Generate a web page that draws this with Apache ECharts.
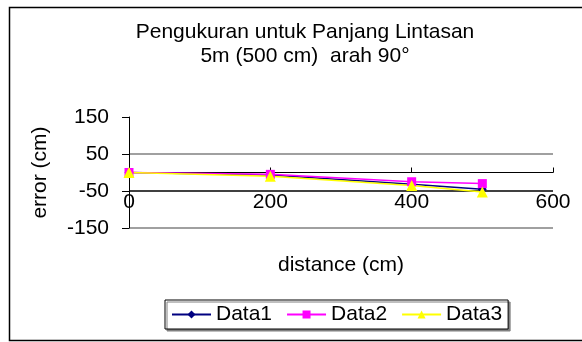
<!DOCTYPE html>
<html><head><meta charset="utf-8">
<script src="https://cdn.jsdelivr.net/npm/echarts@6/dist/echarts.min.js"></script>
<style>html,body{margin:0;padding:0;background:#fff}#c{width:582px;height:342px}</style>
</head><body><div id="c"></div>
<script>
const distances = [0, 200, 400, 500];
const data1 = [0, -7, -32, -45];
const data2 = [0, -5, -25, -30];
const data3 = [0, -10, -35, -53];
const yTicks = [-150, -50, 50, 150];
const xTicks = [0, 200, 400, 600];
const seriesNames = ['Data1', 'Data2', 'Data3'];

const F = 'Liberation Sans, Arial, sans-serif';
const chart = echarts.init(document.getElementById('c'), null, {renderer: 'canvas'});
function pts(vals) { return distances.map((d, i) => [d, vals[i]]); }
chart.setOption({
  animation: false,
  backgroundColor: '#fff',
  graphic: [{type: 'rect', shape: {x: 9.5, y: 7.5, width: 620, height: 333}, style: {fill: 'none', stroke: '#000', lineWidth: 1.5}, z: 0}],
  title: {
    text: 'Pengukuran untuk Panjang Lintasan\n5m (500 cm)  arah 90°',
    left: 300, top: 15, textAlign: 'center',
    textStyle: {fontFamily: F, fontSize: 21, fontWeight: 'normal', color: '#000', lineHeight: 24}
  },
  grid: {left: 129, right: 29, top: 117, bottom: 114},
  xAxis: {
    type: 'value', min: xTicks[0], max: xTicks[xTicks.length - 1], interval: 200,
    name: 'distance (cm)', nameLocation: 'middle', nameGap: 27,
    nameTextStyle: {fontFamily: F, fontSize: 21, color: '#000'},
    axisLine: {onZero: true, lineStyle: {color: '#000', width: 1}},
    axisTick: {show: true, inside: true, length: 5, lineStyle: {color: '#000'}},
    axisLabel: {fontFamily: F, fontSize: 21, color: '#000', margin: -36},
    splitLine: {show: false}
  },
  yAxis: {
    type: 'value', min: yTicks[0], max: yTicks[yTicks.length - 1], interval: 100,
    name: 'error (cm)', nameLocation: 'middle', nameGap: 78,
    nameTextStyle: {fontFamily: F, fontSize: 21, color: '#000'},
    axisLine: {show: true, lineStyle: {color: '#000', width: 1}},
    axisTick: {show: true, length: 7, lineStyle: {color: '#000'}},
    axisLabel: {fontFamily: F, fontSize: 21, color: '#000', margin: 20},
    splitLine: {show: true, lineStyle: {color: ['#808080', '#000000', '#808080', 'rgba(0,0,0,0)'], width: 1.5}}
  },
  legend: {
    data: seriesNames,
    left: 165, top: 300,
    orient: 'horizontal',
    itemWidth: 39, itemHeight: 10, itemGap: 14,
    padding: [4, 6, 4, 6],
    borderColor: '#000', borderWidth: 1, backgroundColor: '#fff',
    shadowColor: '#808080', shadowOffsetX: 2, shadowOffsetY: 2, shadowBlur: 0,
    textStyle: {fontFamily: F, fontSize: 21, color: '#000'}
  },
  series: [
    {name: 'Data1', type: 'line', data: pts(data1), symbol: 'diamond', symbolSize: 9,
     lineStyle: {color: '#000080', width: 1.5}, itemStyle: {color: '#000080'}},
    {name: 'Data2', type: 'line', data: pts(data2), symbol: 'rect', symbolSize: 9,
     lineStyle: {color: '#FF00FF', width: 1.5}, itemStyle: {color: '#FF00FF'}},
    {name: 'Data3', type: 'line', data: pts(data3), symbol: 'triangle', symbolSize: 11,
     lineStyle: {color: '#FFFF00', width: 1.5}, itemStyle: {color: '#FFFF00'}}
  ]
});
</script></body></html>
